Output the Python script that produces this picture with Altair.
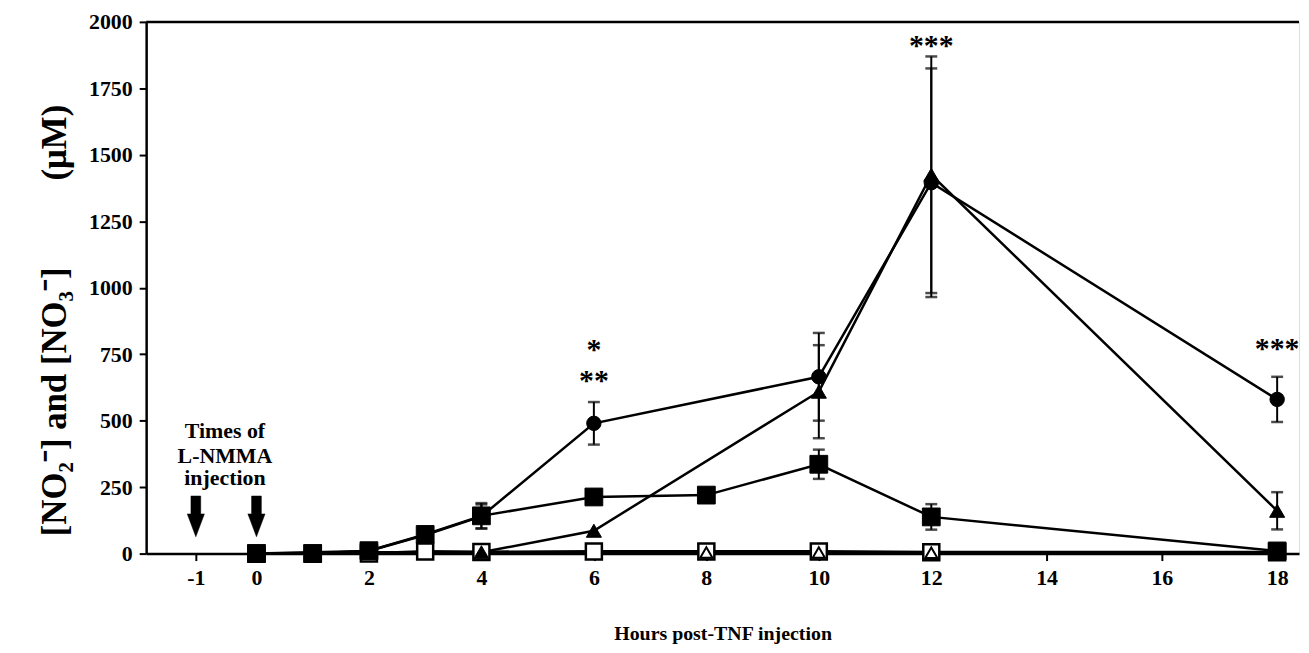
import altair as alt
import pandas as pd

FONT = "Liberation Serif"

# ---- data ----
# Filled circles
circ_h = [0, 2, 3, 4, 6, 10, 12, 18]
circ_v = [0, 10, 70, 140, 490, 665, 1395, 580]
circ_e = [0, 0, 0, 45, 80, 165, 430, 85]
# Filled triangles
tri_h = [0, 2, 4, 6, 10, 12, 18]
tri_v = [0, 5, 5, 86, 609, 1425, 161]
tri_e = [0, 0, 0, 0, 175, 445, 70]
# Filled squares
sq_h = [0, 1, 2, 3, 4, 6, 8, 10, 12, 18]
sq_v = [0, 0, 11, 72, 142, 213, 220, 336, 138, 10]
sq_e = [0, 0, 0, 0, 48, 0, 0, 55, 48, 0]
# Open squares
osq_h = [0, 1, 2, 3, 4, 6, 8, 10, 12, 18]
osq_v = [0, 0, 0, 8, 6, 8, 8, 8, 5, 5]
# Open triangles
otri_h = [8, 10, 12, 18]
otri_v = [4, 4, 3, 3]

x_ticks = [-1, 0, 2, 4, 6, 8, 10, 12, 14, 16, 18]
y_ticks = [0, 250, 500, 750, 1000, 1250, 1500, 1750, 2000]

arrow_h = [-1, 0]
arrow_v = [140, 140]

note_lines = ["Times of", "L-NMMA", "injection"]
note_h = [-0.52, -0.52, -0.52]
note_v = [460, 368, 286]

star_text = ["*", "**", "***", "***"]
star_h = [6, 6, 12, 18]
star_v = [765, 650, 1910, 768]

X_TITLE = "Hours post-TNF injection"
Y_TITLE = "[NO\u2082\u207b] and [NO\u2083\u207b]\u2003\u2003\u2002(\u03bcM)"

# ---- scales / axes ----
xs = alt.Scale(domain=[-1.82, -1, 0, 12, 18, 18.38],
               range=[0, 50, 111, 790, 1138, 1160], nice=False, zero=False)
ys = alt.Scale(domain=[0, 2000], nice=False, zero=True)

xaxis = alt.Axis(values=x_ticks, grid=False, domainColor="black", domainWidth=2.5,
                 tickColor="black", tickWidth=2, tickSize=7,
                 labelExpr="replace(datum.label, '\u2212', '-')",
                 labelFont=FONT, labelFontSize=22, labelFontWeight="bold",
                 labelColor="black", labelPadding=7, labelFlush=False,
                 titleFont=FONT, titleFontSize=20, titleFontWeight="bold",
                 titleColor="black", titlePadding=35)
yaxis = alt.Axis(values=y_ticks, format="d", grid=False, domainColor="black",
                 domainWidth=2.5, tickColor="black", tickWidth=2, tickSize=7,
                 labelFont=FONT, labelFontSize=22, labelFontWeight="bold",
                 labelColor="black", labelPadding=7, labelFlush=False,
                 titleFont=FONT, titleFontSize=35, titleFontWeight="bold",
                 titleColor="black", titleAngle=270, titleX=-92, titleY=300,
                 titleAlign="center", titleBaseline="middle")


def X(field="h"):
    return alt.X(f"{field}:Q", scale=xs, axis=xaxis, title=X_TITLE)


def Y(field="v"):
    return alt.Y(f"{field}:Q", scale=ys, axis=yaxis, title=Y_TITLE)


def frame(h, v, e=None):
    df = pd.DataFrame({"h": h, "v": v})
    if e is not None:
        df["e"] = e
        df["lo"] = df["v"] - df["e"]
        df["hi"] = df["v"] + df["e"]
    return df


circ = frame(circ_h, circ_v, circ_e)
tri = frame(tri_h, tri_v, tri_e)
sq = frame(sq_h, sq_v, sq_e)
osq = frame(osq_h, osq_v)
otri = frame(otri_h, otri_v)


def line(df, sw=2.5):
    return alt.Chart(df).mark_line(color="black", strokeWidth=sw).encode(x=X(), y=Y())


def errbars(df):
    d = df[df["e"] > 0]
    rule = alt.Chart(d).mark_rule(color="black", strokeWidth=2).encode(
        x=X(), y=Y("lo"), y2="hi:Q")
    cap_lo = alt.Chart(d).mark_tick(color="black", orient="horizontal", size=12,
                                    thickness=2.5).encode(x=X(), y=Y("lo"))
    cap_hi = alt.Chart(d).mark_tick(color="black", orient="horizontal", size=12,
                                    thickness=2.5).encode(x=X(), y=Y("hi"))
    return [rule, cap_lo, cap_hi]


def points(df, shape, filled, size, sw=1):
    fill = "black" if filled else "white"
    return alt.Chart(df).mark_point(shape=shape, filled=True, fill=fill, stroke="black",
                                    strokeWidth=sw, size=size, opacity=1).encode(
        x=X(), y=Y())


top_rule = alt.Chart(pd.DataFrame({"v": [2000]})).mark_rule(
    color="black", strokeWidth=2.5).encode(y=Y())

arrow_shape = ("M-0.24,-1L0.24,-1L0.24,-0.12L0.42,-0.12L0,1L-0.42,-0.12L-0.24,-0.12Z")
arrows = alt.Chart(pd.DataFrame({"h": arrow_h, "v": arrow_v})).mark_point(
    shape=arrow_shape, filled=True, fill="black", stroke="black", strokeWidth=0.5,
    size=41 * 41, opacity=1).encode(x=X(), y=Y())

notes = alt.Chart(pd.DataFrame({"h": note_h, "v": note_v, "t": note_lines})).mark_text(
    font=FONT, fontSize=22, fontWeight="bold", color="black", align="center",
    baseline="middle").encode(x=X(), y=Y(), text="t:N")

stars = alt.Chart(pd.DataFrame({"h": star_h, "v": star_v, "t": star_text})).mark_text(
    font=FONT, fontSize=30, fontWeight="bold", color="black", align="center",
    baseline="middle").encode(x=X(), y=Y(), text="t:N")

layers = [
    top_rule,
    line(osq, 3), line(otri, 3), line(sq), line(tri), line(circ),
    *errbars(sq), *errbars(tri), *errbars(circ),
    points(osq, "square", False, 260, 2.5),
    points(otri, "triangle-up", False, 150, 2),
    points(sq, "square", True, 320),
    points(tri, "triangle-up", True, 230),
    points(circ, "circle", True, 210),
    arrows, notes, stars,
]

chart = alt.layer(*layers).properties(
    width=1160, height=535,
    autosize=alt.AutoSizeParams(type="none"),
    padding={"left": 139, "top": 12, "right": 2, "bottom": 90},
).configure_view(stroke=None).configure(background="white")

chart.save("out.html", embed_options={"renderer": "svg", "actions": False})
